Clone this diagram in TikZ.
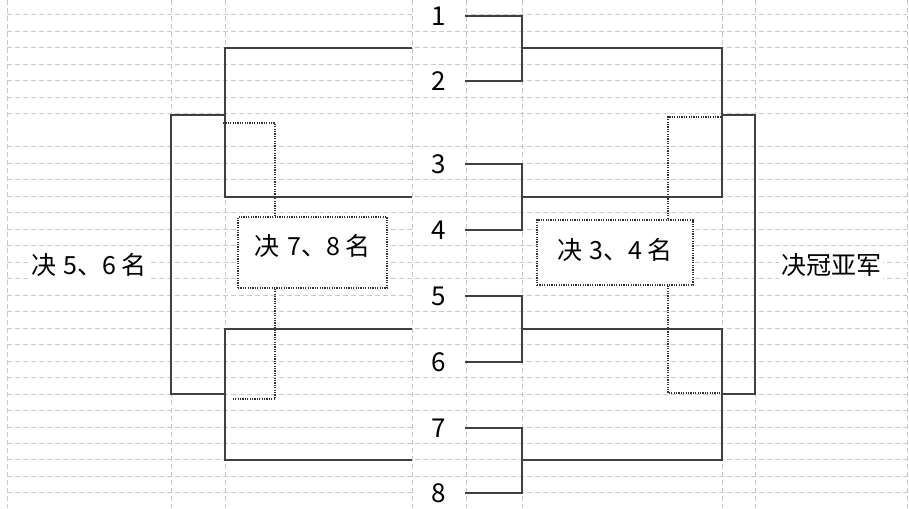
\documentclass[tikz,border=0pt]{standalone}
\usepackage{fontspec}
\setmainfont{Noto Sans CJK SC}
\usepackage{tikz}
\usetikzlibrary{positioning, calc}
\definecolor{GitterGrau}{RGB}{200,200,200}
\definecolor{LinienGrau}{RGB}{64,64,64}
\definecolor{PunktGrau}{RGB}{50,50,50}

\begin{document}
\begin{tikzpicture}[x=0.5pt, y=-0.5pt,
    gitter/.style={GitterGrau, line width=0.5pt, dash pattern=on 2.5pt off 1.5pt},
    linie/.style={LinienGrau, line width=1pt},
    punkt/.style={draw=PunktGrau, line width=0.8pt, dash pattern=on 0.6pt off 0.6pt},
    nummer/.style={fill=white, inner sep=0pt, minimum width=26pt, minimum height=9pt, font=\fontsize{13}{15}\selectfont},
    runde/.style={fill=white, inner sep=1pt, font=\fontsize{12.5}{15}\selectfont},
    kasten/.style={punkt, fill=white, inner sep=0pt, font=\fontsize{12.5}{15}\selectfont, text height=10pt}]
    \useasboundingbox (0,0) rectangle (909,508);

    % Tabellengitter
    \foreach \k in {0,...,6,8,9,...,29}
        \draw[gitter] (7,15+16.48*\k) -- (907,15+16.48*\k);
    \foreach \x in {7,171,225,412,466,522,722,755,907}
        \draw[gitter] (\x,0) -- (\x,508);

    % Startplaetze
    \node[nummer] (n1) at (439, 16) {1};
    \node[nummer] (n2) at (439, 81) {2};
    \node[nummer] (n3) at (439,164) {3};
    \node[nummer] (n4) at (439,230) {4};
    \node[nummer] (n5) at (439,296) {5};
    \node[nummer] (n6) at (439,362) {6};
    \node[nummer] (n7) at (439,428) {7};
    \node[nummer] (n8) at (439,493) {8};

    \node[runde] (platz56) at (89,265) {决\hspace{0.3em}5、6\hspace{0.2em}名};
    \node[runde] (finale) at (831,265) {决冠亚军};
    \node[kasten, minimum width=74.5pt, minimum height=35.5pt, text depth=7.5pt] (platz78) at (312.5,252.5) {决\hspace{0.3em}7、8\hspace{0.2em}名};
    \node[kasten, minimum width=78pt, minimum height=32.5pt, text depth=3pt] (platz34) at (615,252.5) {决\hspace{0.3em}3、4\hspace{0.2em}名};

    % Klammerpunkte
    \coordinate (r12) at (522, 48);
    \coordinate (r34) at (522,197);
    \coordinate (r56) at (522,329);
    \coordinate (r78) at (522,460);
    \coordinate (l12) at (412, 48);
    \coordinate (l34) at (412,197);
    \coordinate (l56) at (412,329);
    \coordinate (l78) at (412,460);
    \coordinate (ho) at (722,115);
    \coordinate (hu) at (722,394);
    \coordinate (fo) at (755,115);
    \coordinate (fu) at (755,394);
    \coordinate (ko) at (225,115);
    \coordinate (ku) at (225,394);
    \coordinate (go) at (171,115);
    \coordinate (gu) at (171,394);

    \draw[linie] (n1.east) -| (r12) |- (n2.east);
    \draw[linie] (n3.east) -| (r34) |- (n4.east);
    \draw[linie] (n5.east) -| (r56) |- (n6.east);
    \draw[linie] (n7.east) -| (r78) |- (n8.east);

    \draw[linie] (r12) -| (ho) |- (r34);
    \draw[linie] (r56) -| (hu) |- (r78);
    \draw[linie] (ho) -- (fo) -- (fu) -- (hu);

    \draw[linie] (l12) -| (ko) |- (l34);
    \draw[linie] (l56) -| (ku) |- (l78);
    \draw[linie] (ko) -- (go) -- (gu) -- (ku);

    % Verlierer
    \coordinate (v78o) at (223,123);
    \coordinate (k78) at (275,123);
    \coordinate (v78u) at (232,399);
    \coordinate (v34o) at (721,117);
    \coordinate (k34) at (668,117);
    \coordinate (v34u) at (721,393);

    \draw[punkt] (v78o) -- (k78) -- (k78 |- platz78.north);
    \draw[punkt] (platz78.south -| k78) |- (v78u);
    \draw[punkt] (v34o) -- (k34) -- (k34 |- platz34.north);
    \draw[punkt] (platz34.south -| k34) |- (v34u);
\end{tikzpicture}
\end{document}
